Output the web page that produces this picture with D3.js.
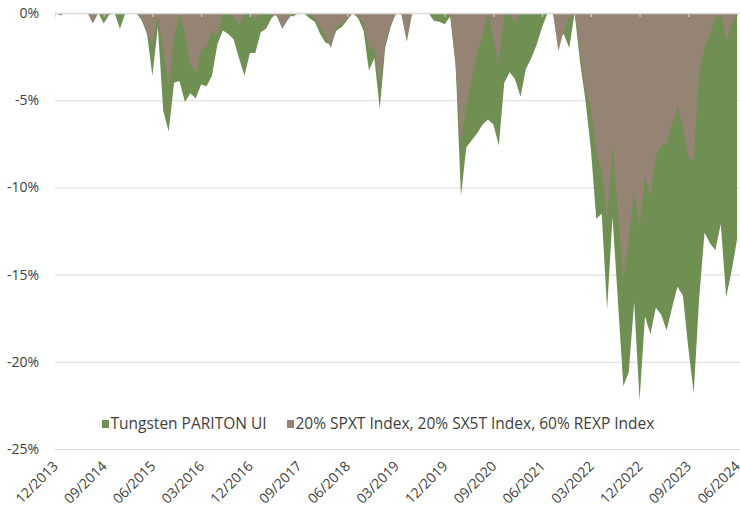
<!DOCTYPE html>
<html>
<head>
<meta charset="utf-8">
<script src="https://cdn.jsdelivr.net/npm/d3@7"></script>
<style>
  body { margin: 0; background: #fff; }
  svg text { font-family: "Open Sans", sans-serif; fill: #404040; }
</style>
</head>
<body>
<div id="chart"></div>
<script>
// monthly drawdowns in %, 12/2013 .. 06/2024
var tickLabels = ["12/2013", "09/2014", "06/2015", "03/2016", "12/2016", "09/2017", "06/2018",
  "03/2019", "12/2019", "09/2020", "06/2021", "03/2022", "12/2022", "09/2023", "06/2024"];
var yTicks = [0, -5, -10, -15, -20, -25];
var seriesNames = ["Tungsten PARITON UI", "20% SPXT Index, 20% SX5T Index, 60% REXP Index"];
var seriesColors = ["#6f8f53", "#958374"];

var pariton = [
  0, 0, 0, 0, 0, 0, 0, -0.2, 0, -0.6, -0.1, 0, -0.9, 0, 0,
  0, -0.4, -1.2, -3.6, -0.8, -5.6, -6.8, -4.0, -3.9, -5.1, -4.6, -4.9, -4.1, -4.2, -3.6,
  -1.8, -1.0, -1.2, -1.5, -2.6, -3.6, -2.3, -2.3, -1.1, -0.9, -0.3, 0, -0.3, -0.1, -0.2,
  0, 0, -0.3, -0.5, -1.2, -1.7, -1.8, -1.0, -0.8, -0.4, 0, -0.3, -1.0, -3.3, -2.6,
  -5.5, -2.0, -0.8, 0, 0, -0.8, 0, 0, 0, 0, -0.45, -0.5, -0.65, -0.2, -2.8,
  -10.5, -7.7, -7.3, -6.9, -6.4, -6.1, -6.4, -7.6, -4.0, -3.4, -3.8, -4.8, -3.2, -2.6, -1.8,
  -0.8, 0, 0, -1.5, -1.2, -2.0, 0, -2.8, -5.0, -7.8, -11.8, -11.5, -17.0, -11.7, -16.5,
  -21.4, -20.6, -16.6, -22.2, -17.4, -18.4, -16.9, -17.3, -18.2, -16.9, -15.7, -16.2, -19.2, -21.8, -16.4,
  -12.6, -13.2, -13.6, -12.1, -16.3, -14.8, -13.0
];
var benchmark = [
  0, -0.15, 0, 0, 0, 0, 0, -0.6, 0, -0.1, -0.1, 0, 0, 0, 0,
  0, -0.3, -1.1, -1.8, -0.2, -2.1, -4.2, -1.4, 0, -1.2, -2.9, -3.5, -2.1, -1.9, -1.0,
  -1.3, 0, 0, -0.2, -0.75, 0, 0, -0.4, 0, 0, 0, -0.2, -0.9, -0.4, 0,
  0, 0, -0.1, -0.3, -0.8, -1.4, -2.0, -0.8, -0.6, -0.3, 0, -0.2, -0.6, -2.0, -2.1,
  -4.1, -1.8, -0.7, 0, -0.1, -1.65, 0, 0, 0, 0, 0, 0, 0, 0, -3.0,
  -7.6, -5.3, -3.8, -2.3, -1.3, 0, -1.5, -2.9, -0.2, 0, -0.6, 0, 0, 0, 0,
  0, 0, 0, -2.2, -1.0, -0.3, 0, -2.2, -4.5, -5.4, -8.1, -9.0, -11.9, -7.6, -11.5,
  -15.3, -13.0, -10.3, -12.3, -9.4, -10.5, -8.2, -7.6, -7.5, -6.4, -5.35, -6.5, -8.3, -8.5, -3.5,
  -2.0, -1.2, -0.3, 0, -1.6, -0.6, 0
];

var width = 740, height = 516;
var svg = d3.select("#chart").append("svg").attr("width", width).attr("height", height);

var x = d3.scaleLinear().domain([0, pariton.length - 1]).range([55, 737]);
var y = d3.scaleLinear().domain([-25, 0]).range([449, 13]);

// gridlines (behind the areas)
svg.append("g").selectAll("line")
  .data(yTicks.filter(function (d) { return d !== 0; }))
  .enter().append("line")
  .attr("x1", 55).attr("x2", 740)
  .attr("y1", function (d) { return y(d) + 0.5; }).attr("y2", function (d) { return y(d) + 0.5; })
  .attr("stroke", "#d9d9d9").attr("stroke-width", 1);

function area() {
  return d3.area()
    .x(function (d, i) { return x(i); })
    .y0(y(0))
    .y1(function (d) { return y(d); });
}

svg.append("path").datum(pariton).attr("d", area()).attr("fill", seriesColors[0]);
svg.append("path").datum(benchmark).attr("d", area()).attr("fill", seriesColors[1]);

// zero line with small ticks
svg.append("line").attr("x1", 55).attr("x2", 740).attr("y1", y(0) + 0.5).attr("y2", y(0) + 0.5)
  .attr("stroke", "#d9d9d9").attr("stroke-width", 1.5);
svg.append("g").selectAll("line")
  .data(tickLabels)
  .enter().append("line")
  .attr("x1", function (d, i) { return x(i * 9) + 0.5; })
  .attr("x2", function (d, i) { return x(i * 9) + 0.5; })
  .attr("y1", y(0)).attr("y2", y(0) + 4)
  .attr("stroke", "#d9d9d9");

// y labels
svg.append("g").selectAll("text")
  .data(yTicks)
  .enter().append("text")
  .attr("x", 39).attr("y", function (d) { return y(d); })
  .attr("dy", "0.35em")
  .attr("text-anchor", "end")
  .style("font-size", "14px")
  .text(function (d) { return d + "%"; });

// x labels, rotated
svg.append("g").selectAll("text")
  .data(tickLabels)
  .enter().append("text")
  .attr("text-anchor", "end")
  .attr("transform", function (d, i) { return "translate(" + (x(i * 9) + 4) + ",467) rotate(-45)"; })
  .style("font-size", "14px")
  .text(function (d) { return d; });

// legend
var legend = svg.append("g");
var lx = [102, 287];
seriesNames.forEach(function (name, i) {
  legend.append("rect").attr("x", lx[i]).attr("y", 420).attr("width", 7).attr("height", 8)
    .attr("fill", seriesColors[i]);
  legend.append("text").attr("x", lx[i] + 8.5).attr("y", 429)
    .style("font-size", "15.5px").text(name);
});
</script>
</body>
</html>
